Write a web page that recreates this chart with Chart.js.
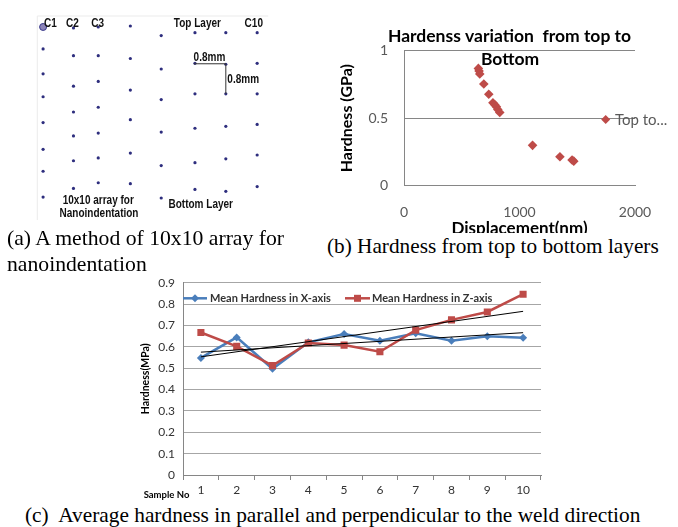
<!DOCTYPE html>
<html lang="en">
<head>
<meta charset="UTF-8">
<title>Nanoindentation hardness</title>
<script src="https://cdn.jsdelivr.net/npm/chart.js"></script>
<style>
  body { margin: 0; background: #fff; }
  .page { position: relative; width: 678px; height: 527px; overflow: hidden; background: #fff; }
  .panel { position: absolute; }
  .cap { position: absolute; font-family: "Liberation Serif", "Times New Roman", serif; font-size: 21.3px; line-height: 26px; color: #000; white-space: nowrap; }
</style>
</head>
<body>
<div class="page">
  <div class="panel" style="left:0;top:0;width:280px;height:225px"><canvas id="arrayChart"></canvas></div>
  <div class="panel" style="left:320px;top:0;width:358px;height:233px;overflow:hidden">
    <div style="width:358px;height:250px"><canvas id="depthChart"></canvas></div>
  </div>
  <div class="panel" style="left:130px;top:265px;width:420px;height:235px"><canvas id="meanChart"></canvas></div>
  <div class="cap" style="left:7px;top:225px;font-size:21.7px">(a) A method of 10x10 array for<br>nanoindentation</div>
  <div class="cap" style="left:327px;top:233px;font-size:21.25px">(b) Hardness from top to bottom layers</div>
  <div class="cap" style="left:25px;top:502px;font-size:21.35px">(c)&nbsp; Average hardness in parallel and perpendicular to the weld direction</div>
</div>

<script>
  // (a) indent positions (units = sketch px)
  const indentColX = [39.5, 71, 96.7, 130, 162, 197, 229, 261.5];
  const indentColY = [
    [23, 46, 72, 96, 123, 151, 174, 201],
    [24, 53, 85, 112, 137, 163, 192],
    [23, 53, 80, 107, 134, 160, 186],
    [22, 56, 89, 120, 155, 187],
    [32, 67, 99, 133, 168, 202],
    [29, 61, 93, 129, 165, 193],
    [29, 62, 93, 127, 161, 195],
    [29, 61, 93, 125, 157, 190]
  ];

  // (b) hardness vs displacement
  const displacementNm = [644, 650, 656, 691, 734, 770, 786, 800, 812, 829, 1113, 1350, 1455, 1470];
  const hardnessGPa = [0.869, 0.85, 0.827, 0.753, 0.677, 0.615, 0.6, 0.585, 0.565, 0.543, 0.299, 0.215, 0.19, 0.182];

  // (c) mean hardness per sample
  const sampleNo = ['1', '2', '3', '4', '5', '6', '7', '8', '9', '10'];
  const meanHardX = [0.548, 0.644, 0.497, 0.621, 0.660, 0.628, 0.663, 0.628, 0.649, 0.642];
  const meanHardZ = [0.667, 0.602, 0.512, 0.618, 0.608, 0.577, 0.678, 0.726, 0.763, 0.846];
  const trendX = [0.575, null, null, null, null, null, null, null, null, 0.666];
  const trendZ = [0.553, null, null, null, null, null, null, null, null, 0.766];

  const BLUE = '#4A7EBB';
  const RED = '#BE4B48';

  Chart.defaults.font.family = 'Lato, "Open Sans", sans-serif';
  Chart.defaults.animation = false;

  // ---------- (a) ----------
  const arrayDots = [];
  indentColX.forEach((x, i) => {
    indentColY[i].forEach((y, j) => {
      if (i === 0 && j === 0) return;
      arrayDots.push({ x: x, y: y });
    });
  });

  const arrayText = {
    id: 'arrayText',
    afterDatasetsDraw(chart) {
      const ctx = chart.ctx;
      const sx = v => chart.scales.x.getPixelForValue(v);
      const sy = v => chart.scales.y.getPixelForValue(v);
      ctx.save();
      ctx.strokeStyle = '#ebebeb';
      ctx.lineWidth = 1;
      ctx.beginPath();
      ctx.moveTo(sx(33.5), sy(225));
      ctx.lineTo(sx(33.5), sy(11.5));
      ctx.lineTo(sx(273), sy(11.5));
      ctx.stroke();

      ctx.strokeStyle = '#333';
      ctx.beginPath();
      ctx.moveTo(sx(196), sy(61.5));
      ctx.lineTo(sx(229), sy(61.5));
      ctx.lineTo(sx(229), sy(93));
      ctx.stroke();

      // narrow bold labels (squeezed horizontally)
      ctx.fillStyle = '#111';
      ctx.font = 'bold 12.5px "Liberation Sans", sans-serif';
      ctx.textAlign = 'center';
      ctx.textBaseline = 'middle';
      const labels = [
        ['C1', 47, 19], ['C2', 70, 19], ['C3', 96, 19], ['Top Layer', 199.5, 19], ['C10', 258, 19],
        ['0.8mm', 212, 54.5], ['0.8mm', 247, 78.5],
        ['10x10 array for', 96.7, 204.5], ['Nanoindentation', 97.5, 218.5], ['Bottom Layer', 203, 208.5]
      ];
      labels.forEach(l => {
        ctx.save();
        ctx.translate(sx(l[1]), sy(l[2]));
        ctx.scale(0.8, 1);
        ctx.fillText(l[0], 0, 0);
        ctx.restore();
      });
      ctx.restore();
    }
  };

  new Chart(document.getElementById('arrayChart'), {
    type: 'scatter',
    data: {
      datasets: [
        { data: [{ x: indentColX[0], y: indentColY[0][0] }], pointRadius: 3.5, backgroundColor: '#8c84b8', borderColor: '#3b3b8c', borderWidth: 1 },
        { data: arrayDots, pointRadius: 1.6, backgroundColor: '#2e2e7e', borderWidth: 0 }
      ]
    },
    options: {
      responsive: true,
      maintainAspectRatio: false,
      layout: { padding: 0 },
      plugins: { legend: { display: false }, tooltip: { enabled: false } },
      scales: {
        x: { display: false, min: 0, max: 280 },
        y: { display: false, min: 0, max: 225, reverse: true }
      }
    },
    plugins: [arrayText]
  });

  // ---------- (b) ----------
  const depthText = {
    id: 'depthText',
    afterDraw(chart) {
      const ctx = chart.ctx;
      ctx.save();
      ctx.fillStyle = '#000';
      ctx.font = 'bold 17.5px Lato, sans-serif';
      ctx.textAlign = 'center';
      ctx.textBaseline = 'middle';
      ctx.fillText('Hardenss variation  from top to', 189.5, 36);
      ctx.fillText('Bottom', 190, 59.5);
      // legend entry
      const lx = 285.7, ly = 119.5, r = 4.5;
      ctx.fillStyle = RED;
      ctx.beginPath();
      ctx.moveTo(lx, ly - r); ctx.lineTo(lx + r, ly); ctx.lineTo(lx, ly + r); ctx.lineTo(lx - r, ly);
      ctx.closePath();
      ctx.fill();
      ctx.fillStyle = '#595959';
      ctx.font = '15px Lato, sans-serif';
      ctx.textAlign = 'left';
      ctx.fillText('Top to...', 295, 120.5);
      ctx.restore();
    }
  };

  new Chart(document.getElementById('depthChart'), {
    type: 'scatter',
    data: {
      datasets: [{
        data: displacementNm.map((d, i) => ({ x: d, y: hardnessGPa[i] })),
        pointStyle: 'rectRot',
        pointRadius: 4.8,
        backgroundColor: RED,
        borderWidth: 0
      }]
    },
    options: {
      responsive: true,
      maintainAspectRatio: false,
      layout: { padding: { top: 50.7, right: 43, left: 0, bottom: 0 } },
      plugins: { legend: { display: false }, tooltip: { enabled: false } },
      scales: {
        x: {
          type: 'linear', min: 0, max: 2000,
          ticks: { stepSize: 1000, padding: 18, color: '#595959', font: { size: 14 }, callback: v => String(v) },
          grid: { display: false, drawTicks: false },
          border: { color: '#868686' },
          title: { display: true, text: 'Displacement(nm)', color: '#000', font: { size: 17, weight: 'bold' }, padding: { top: 0, bottom: 11 } },
          afterFit: s => { s.height = 64.3; }
        },
        y: {
          min: 0, max: 1,
          ticks: { stepSize: 0.5, padding: 16, color: '#595959', font: { size: 14 }, callback: v => String(v) },
          grid: { color: '#868686', drawTicks: false },
          border: { color: '#868686' },
          title: { display: true, text: 'Hardness (GPa)', color: '#000', font: { size: 16, weight: 'bold' }, padding: { top: 17.4, bottom: 0 } },
          afterFit: s => { s.width = 84; }
        }
      }
    },
    plugins: [depthText]
  });

  // ---------- (c) ----------
  const meanText = {
    id: 'meanText',
    afterDraw(chart) {
      const ctx = chart.ctx;
      const a = chart.chartArea;
      ctx.save();
      const ly = 33.3;
      // X-axis entry
      ctx.strokeStyle = BLUE; ctx.lineWidth = 2.5;
      ctx.beginPath(); ctx.moveTo(a.left, ly); ctx.lineTo(a.left + 24, ly); ctx.stroke();
      ctx.fillStyle = BLUE;
      ctx.beginPath();
      const cx = a.left + 12, r = 4;
      ctx.moveTo(cx, ly - r); ctx.lineTo(cx + r, ly); ctx.lineTo(cx, ly + r); ctx.lineTo(cx - r, ly);
      ctx.closePath(); ctx.fill();
      // Z-axis entry
      ctx.strokeStyle = RED;
      ctx.beginPath(); ctx.moveTo(215, ly); ctx.lineTo(240, ly); ctx.stroke();
      ctx.fillStyle = RED;
      ctx.fillRect(227.5 - 3.5, ly - 3.5, 7, 7);

      ctx.fillStyle = '#333';
      ctx.font = 'bold 11px Lato, sans-serif';
      ctx.textAlign = 'left';
      ctx.textBaseline = 'middle';
      ctx.fillText('Mean Hardness in X-axis', a.left + 27, ly + 0.5);
      ctx.fillText('Mean Hardness in Z-axis', 242, ly + 0.5);

      ctx.font = 'bold 9.5px Lato, sans-serif';
      ctx.fillStyle = '#000';
      ctx.textAlign = 'center';
      ctx.fillText('Sample No', 36.5, 230);
      ctx.restore();
    }
  };

  new Chart(document.getElementById('meanChart'), {
    type: 'line',
    data: {
      labels: sampleNo,
      datasets: [
        { label: 'Mean Hardness in X-axis', data: meanHardX, borderColor: BLUE, backgroundColor: BLUE, borderWidth: 2.5,
          pointStyle: 'rectRot', pointRadius: 4, pointBorderWidth: 0, tension: 0, order: 2 },
        { label: 'Mean Hardness in Z-axis', data: meanHardZ, borderColor: RED, backgroundColor: RED, borderWidth: 2.5,
          pointStyle: 'rect', pointRadius: 5, pointBorderWidth: 0, tension: 0, order: 1 },
        { label: 'Linear (X-axis)', data: trendX, borderColor: '#000', borderWidth: 1, pointRadius: 0, spanGaps: true, order: 0 },
        { label: 'Linear (Z-axis)', data: trendZ, borderColor: '#000', borderWidth: 1, pointRadius: 0, spanGaps: true, order: 0 }
      ]
    },
    options: {
      responsive: true,
      maintainAspectRatio: false,
      layout: { padding: { top: 17.7, right: 9, left: 0, bottom: 0 } },
      plugins: { legend: { display: false }, tooltip: { enabled: false } },
      scales: {
        x: {
          offset: true,
          ticks: { padding: 3, color: '#333', font: { size: 12 } },
          grid: { offset: true, drawOnChartArea: false, tickLength: 5, color: '#868686' },
          border: { color: '#868686' },
          afterFit: s => { s.height = 25; }
        },
        y: {
          min: 0, max: 0.9,
          ticks: { stepSize: 0.1, padding: 8, color: '#333', font: { size: 12 } },
          grid: { color: '#a6a6a6', drawTicks: false },
          border: { color: '#868686' },
          title: { display: true, text: 'Hardness(MPa)', color: '#000', font: { size: 10.5, weight: 'bold' }, padding: { top: 9.7, bottom: 0 } },
          afterFit: s => { s.width = 53; }
        }
      }
    },
    plugins: [meanText]
  });
</script>
</body>
</html>
